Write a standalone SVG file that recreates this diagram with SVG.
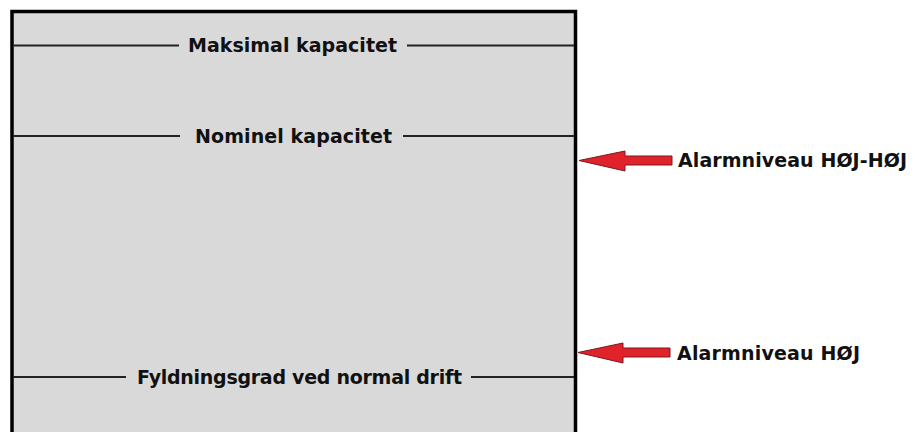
<svg xmlns="http://www.w3.org/2000/svg" width="915" height="432" viewBox="0 0 915 432">
<style>
.lbl{font-family:"DejaVu Sans","Verdana",sans-serif;font-weight:bold;font-size:19px;fill:#111}
.lvl{stroke:#222;stroke-width:2;fill:none}
.arr{fill:#e0232b;stroke:#7a1a1e;stroke-width:1}
</style>
<rect width="915" height="432" fill="#ffffff"/>
<g id="tank">
<rect x="12" y="11.5" width="563.5" height="440" fill="#d9d9d9" stroke="#000" stroke-width="3.5"/>
</g>
<g id="levels">
<g id="maks">
<line class="lvl" x1="13" y1="45.5" x2="179" y2="45.5"/>
<line class="lvl" x1="407" y1="45.5" x2="574" y2="45.5"/>
<text class="lbl" x="188" y="52" textLength="209">Maksimal kapacitet</text>
</g>
<g id="nominel">
<line class="lvl" x1="13" y1="136" x2="180" y2="136"/>
<line class="lvl" x1="403" y1="136" x2="574" y2="136"/>
<text class="lbl" x="195" y="142.5" textLength="197">Nominel kapacitet</text>
</g>
<g id="fyld">
<line class="lvl" x1="13" y1="377" x2="126" y2="377"/>
<line class="lvl" x1="471" y1="377" x2="574" y2="377"/>
<text class="lbl" x="137" y="384" textLength="325">Fyldningsgrad ved normal drift</text>
</g>
</g>
<g id="connectors">
<polygon class="arr" points="579,160.5 625,151 625,156 672,156 672,165 625,165 625,171"/>
<polygon class="arr" points="578,352.5 623,343 623,348 670,348 670,357 623,357 623,363"/>
</g>
<g id="alarm-hojhoj">
<text class="lbl" x="678" y="167" textLength="229">Alarmniveau HØJ-HØJ</text>
</g>
<g id="alarm-hoj">
<text class="lbl" x="677" y="360" textLength="183">Alarmniveau HØJ</text>
</g>
</svg>
